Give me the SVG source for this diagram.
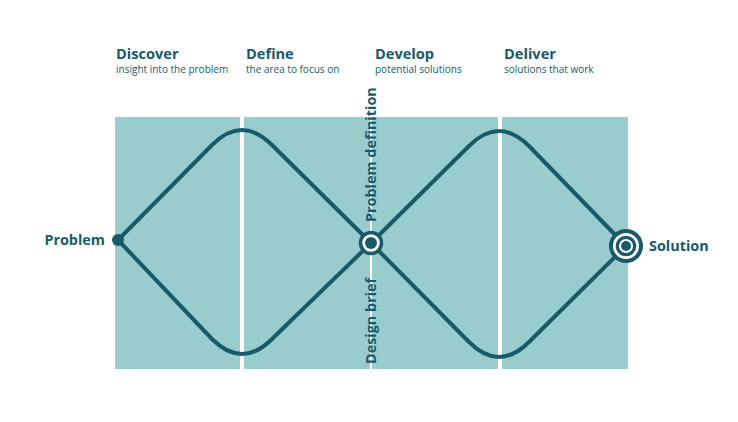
<svg xmlns="http://www.w3.org/2000/svg" width="738" height="422" viewBox="0 0 738 422">
  <style>
    .panel { fill: #99cdcd; }
    .line { fill: none; stroke: #175b6b; stroke-width: 4; stroke-linecap: round; stroke-linejoin: round; }
    .h { font-family: "Open Sans", "Liberation Sans", sans-serif; font-weight: 700; font-size: 14.6px; fill: #175b6b; }
    .s { font-family: "Open Sans", "Liberation Sans", sans-serif; font-weight: 400; font-size: 10px; fill: #175b6b; }
    .lbl { font-family: "Open Sans", "Liberation Sans", sans-serif; font-weight: 700; font-size: 14.4px; fill: #175b6b; }
    .dark { fill: #175b6b; }
    .ring { fill: #ffffff; stroke: #175b6b; }
  </style>
  <rect width="738" height="422" fill="#ffffff"/>
  <g id="panels">
    <rect class="panel" x="115" y="117" width="125" height="252"/>
    <rect class="panel" x="244" y="117" width="126" height="252"/>
    <rect class="panel" x="372" y="117" width="126" height="252"/>
    <rect class="panel" x="502" y="117" width="126" height="252"/>
  </g>
  <g id="headings">
    <g id="discover">
      <text class="h" x="116" y="58.5">Discover</text>
      <text class="s" x="116" y="72.5">insight into the problem</text>
    </g>
    <g id="define">
      <text class="h" x="246" y="58.5">Define</text>
      <text class="s" x="246" y="72.5">the area to focus on</text>
    </g>
    <g id="develop">
      <text class="h" x="375" y="58.5">Develop</text>
      <text class="s" x="375" y="72.5">potential solutions</text>
    </g>
    <g id="deliver">
      <text class="h" x="504" y="58.5">Deliver</text>
      <text class="s" x="504" y="72.5">solutions that work</text>
    </g>
  </g>
  <g id="connectors">
    <path class="line" d="M118,240 L212,145 Q242,115 272,145 L371,243"/>
    <path class="line" d="M118,240 L212,339 Q242,369 272,339 L371,243"/>
    <path class="line" d="M371,243 L469,146 Q499,116 529,146 L626,246"/>
    <path class="line" d="M371,243 L469,342 Q499,372 529,342 L626,246"/>
  </g>
  <g id="problem">
    <circle class="dark" cx="118" cy="240" r="6"/>
    <text class="lbl" x="105" y="245" text-anchor="end">Problem</text>
  </g>
  <g id="midpoint">
    <rect x="370" y="117" width="2" height="252" fill="#ffffff"/>
    <circle class="ring" cx="371" cy="243" r="10.5" stroke-width="3.5"/>
    <circle class="dark" cx="371" cy="243" r="6"/>
    <text class="lbl" transform="translate(376,222) rotate(-90)">Problem definition</text>
    <text class="lbl" transform="translate(376,364) rotate(-90)">Design brief</text>
  </g>
  <g id="solution">
    <circle class="ring" cx="626" cy="246" r="15" stroke-width="4"/>
    <circle class="ring" cx="626" cy="246" r="8.7" stroke-width="3.3"/>
    <circle class="dark" cx="626" cy="246" r="5"/>
    <text class="lbl" x="649" y="251">Solution</text>
  </g>
</svg>
